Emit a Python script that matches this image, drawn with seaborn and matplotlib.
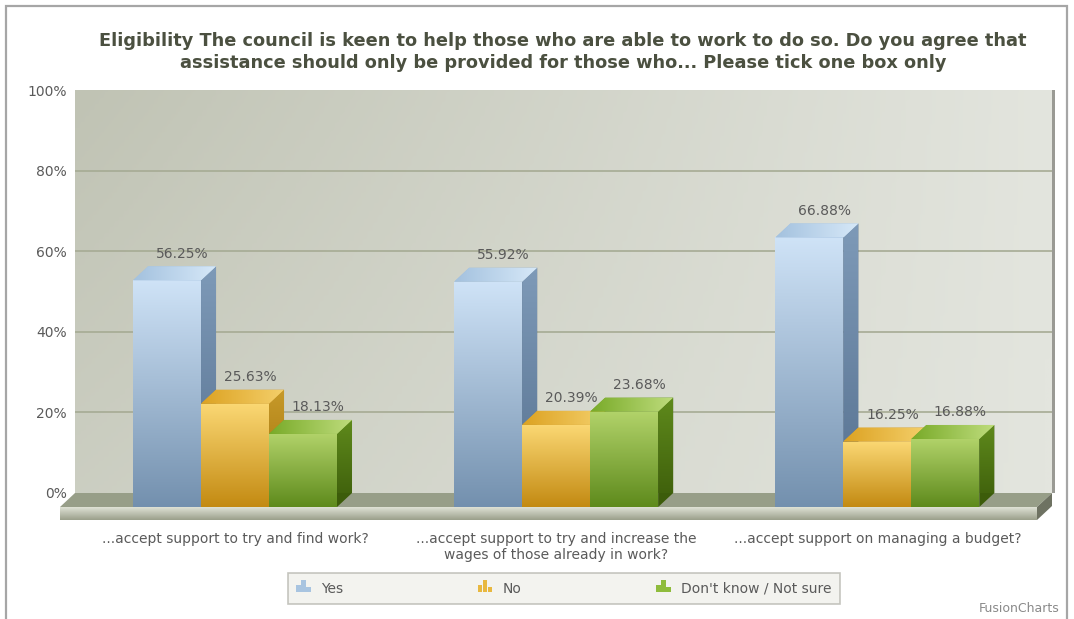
import numpy as np
import pandas as pd
import matplotlib
matplotlib.use("Agg")
import matplotlib.pyplot as plt
import seaborn as sns
from matplotlib.patches import Polygon, Rectangle
from matplotlib.legend_handler import HandlerBase
from matplotlib.colors import LinearSegmentedColormap, to_rgb

# ---- data -------------------------------------------------------------
questions = [
    "...accept support to try and find work?",
    "...accept support to try and increase the\nwages of those already in work?",
    "...accept support on managing a budget?",
]
responses = ["Yes", "No", "Don't know / Not sure"]
yes_pct = [56.25, 55.92, 66.88]
no_pct = [25.63, 20.39, 16.25]
dontknow_pct = [18.13, 23.68, 16.88]
y_ticks = [0, 20, 40, 60, 80, 100]
y_ticklabels = ["0%", "20%", "40%", "60%", "80%", "100%"]

title = ("Eligibility The council is keen to help those who are able to work to do so. "
         "Do you agree that\nassistance should only be provided for those who... "
         "Please tick one box only")

df = pd.DataFrame({
    "question": np.repeat(questions, 3),
    "response": responses * 3,
    "pct": [v for trio in zip(yes_pct, no_pct, dontknow_pct) for v in trio],
})

# ---- styling ----------------------------------------------------------
sns.set_theme(style="white")
plt.rcParams["font.family"] = ["DejaVu Sans"]

# colours per response: front (top, bottom), side (top, bottom), top face (left, right)
shades = {
    "Yes": dict(front=("#cfe3f7", "#7390ae"), side=("#7e9ab8", "#55708f"),
                top=("#a3c1de", "#d6e8f8"), base="#a8c4e0"),
    "No": dict(front=("#fbd874", "#c38a12"), side=("#c79a2a", "#9c6c06"),
               top=("#dca222", "#f4cf6a"), base="#e8b840"),
    "Don't know / Not sure": dict(front=("#b2d36a", "#5e8a1c"), side=("#5f8a1c", "#3c5c0a"),
                                  top=("#78aa28", "#bedc7c"), base="#8fbc3c"),
}
palette = {k: v["base"] for k, v in shades.items()}

text_grey = "#5a5a5a"
depth_px = (15, 14)      # horizontal / vertical depth of the 3-D extrusion
slab_px = 13             # thickness of the floor slab

W, H = 1074, 619
fig = plt.figure(figsize=(W / 100, H / 100), dpi=100)
fig.patch.set_facecolor("white")

# outer frame
fig.add_artist(Rectangle((6 / W, -0.05), (1067 - 6) / W, 1.05 - 6 / H,
                         transform=fig.transFigure, fill=False,
                         edgecolor="#a6a6a6", linewidth=1.6))

ax = fig.add_axes([75 / W, (H - 493) / H, 977 / W, 403 / H])
xlim = (-0.545, 2.497)
ylim = (0, 100)

sns.barplot(data=df, x="question", y="pct", hue="response", order=questions,
            hue_order=responses, palette=palette, width=0.635, gap=0,
            saturation=1, legend=False, ax=ax, edgecolor="none", linewidth=0,
            err_kws={"linewidth": 0})

ax.set_xlim(*xlim)
ax.set_ylim(*ylim)
ax.set_autoscale_on(False)

# pixel -> data conversions
p0 = ax.transData.transform((0, 0))
p1 = ax.transData.transform((1, 1))
px_x = p1[0] - p0[0]
px_y = p1[1] - p0[1]
dx = depth_px[0] / px_x
dy = depth_px[1] / px_y
slab = slab_px / px_y


def grad_fill(shape, c0, c1, direction, z):
    """Fill a patch with a linear gradient clipped to its outline.

    direction "v": c0 at the top, c1 at the bottom; "h": c0 left, c1 right.
    """
    cmap = LinearSegmentedColormap.from_list("g", [to_rgb(c0), to_rgb(c1)])
    if isinstance(shape, Rectangle):
        x0, y0 = shape.get_x(), shape.get_y()
        x1, y1 = x0 + shape.get_width(), y0 + shape.get_height()
    else:
        xy = shape.get_xy()
        x0, x1 = xy[:, 0].min(), xy[:, 0].max()
        y0, y1 = xy[:, 1].min(), xy[:, 1].max()
    g = np.linspace(0, 1, 256)
    img = (1 - g)[:, None] if direction == "v" else g[None, :]
    im = ax.imshow(img, cmap=cmap, vmin=0, vmax=1, extent=(x0, x1, y0, y1),
                   origin="lower", aspect="auto", interpolation="bilinear", zorder=z)
    im.set_clip_box(None)
    im.set_clip_path(shape)
    return im


# ---- back wall: darker towards the top left ---------------------------
gx = np.linspace(0, 1, 200)[None, :]
gy = np.linspace(0, 1, 200)[:, None]
wall = gx * 0.75 + gy * 0.25 * (1 - gx)
wall_cmap = LinearSegmentedColormap.from_list("wall", ["#c0c3b4", "#e3e5de"])
ax.imshow(wall, cmap=wall_cmap, extent=(xlim[0], xlim[1], ylim[0], ylim[1]),
          origin="upper", aspect="auto", zorder=0)
for t in y_ticks[1:-1]:
    ax.axhline(t, color="#a6ab94", linewidth=1.2, zorder=0.5)
ax.add_patch(Rectangle((xlim[1], ylim[0]), 3 / px_x, ylim[1] - ylim[0],
                       facecolor="#9a9a94", edgecolor="none", clip_on=False, zorder=0.4))

# ---- floor ------------------------------------------------------------
floor_top = Polygon([(xlim[0], 0), (xlim[1], 0), (xlim[1] - dx, -dy), (xlim[0] - dx, -dy)],
                    closed=True, facecolor="#979e88", edgecolor="none", clip_on=False, zorder=1)
ax.add_patch(floor_top)
slab_front = Rectangle((xlim[0] - dx, -dy - slab), xlim[1] - xlim[0], slab,
                       facecolor="#d0d4c6", edgecolor="none", clip_on=False, zorder=1)
ax.add_patch(slab_front)
grad_fill(slab_front, "#dfe2d6", "#9a9f8a", "v", 1.05)
slab_side = Polygon([(xlim[1] - dx, -dy), (xlim[1], 0), (xlim[1], -slab), (xlim[1] - dx, -dy - slab)],
                    closed=True, facecolor="#6e7262", edgecolor="none", clip_on=False, zorder=1.1)
ax.add_patch(slab_side)

# ---- value labels, placed above the back edge of each bar --------------
for cont, resp in zip(ax.containers, responses):
    ax.bar_label(cont, labels=[f"{b.get_height():.2f}%" for b in cont],
                 padding=4, fontsize=10, color=text_grey, zorder=20)

# ---- extrude bars into 3-D prisms -------------------------------------
bars = []
for cont, resp in zip(ax.containers, responses):
    for b in cont:
        bars.append((b.get_x(), b, resp))
bars.sort(key=lambda t: t[0])

for i, (_, b, resp) in enumerate(bars):
    s = shades[resp]
    z = 2 + i * 0.1
    x0, w, h = b.get_x(), b.get_width(), b.get_height()
    x1 = x0 + w
    # front face shifted towards the viewer
    b.set_x(x0 - dx)
    b.set_y(-dy)
    b.set_zorder(z)
    b.set_clip_on(False)
    grad_fill(b, s["front"][0], s["front"][1], "v", z + 0.01)
    side = Polygon([(x1 - dx, -dy), (x1, 0), (x1, h), (x1 - dx, h - dy)], closed=True,
                   facecolor=s["side"][1], edgecolor="none", clip_on=False, zorder=z + 0.02)
    ax.add_patch(side)
    grad_fill(side, s["side"][0], s["side"][1], "v", z + 0.03)
    top = Polygon([(x0 - dx, h - dy), (x1 - dx, h - dy), (x1, h), (x0, h)], closed=True,
                  facecolor=s["top"][0], edgecolor="none", clip_on=False, zorder=z + 0.04)
    ax.add_patch(top)
    grad_fill(top, s["top"][0], s["top"][1], "h", z + 0.05)

# ---- axes text --------------------------------------------------------
ax.set_yticks(y_ticks)
ax.set_yticklabels(y_ticklabels)
ax.set_xticks(np.arange(len(questions)) - dx)
ax.set_xticklabels(questions)
ax.tick_params(axis="x", length=0, pad=28, labelsize=10, labelcolor=text_grey)
ax.tick_params(axis="y", length=0, pad=6, labelsize=10, labelcolor=text_grey)
for lab in ax.get_xticklabels():
    lab.set_linespacing(1.2)
ax.set_xlabel("")
ax.set_ylabel("")
for sp in ax.spines.values():
    sp.set_visible(False)

fig.text(563 / W, 1 - 52 / H, title, ha="center", va="center", fontsize=12.8,
         fontweight="bold", color="#4b5040", linespacing=1.3)
fig.text(1060 / W, 1 - 608 / H, "FusionCharts", ha="right", va="center",
         fontsize=9, color="#8a8a8a")


# ---- legend with small bar-chart icons ---------------------------------
class BarIcon(HandlerBase):
    def create_artists(self, legend, orig, xd, yd, width, height, fontsize, trans):
        col = orig.get_facecolor()
        arts = []
        bw = width / 3.4
        for k, frac in enumerate([0.6, 1.0, 0.45]):
            r = Rectangle((xd + k * bw * 1.1, yd), bw, height * frac,
                          facecolor=col, edgecolor="none", transform=trans)
            arts.append(r)
        return arts


handles = [Rectangle((0, 0), 1, 1, facecolor=shades[r]["base"]) for r in responses]
leg = fig.legend(handles, responses, handler_map={Rectangle: BarIcon()},
                 loc="lower left", ncol=3, mode="expand",
                 bbox_to_anchor=(288 / W, 1 - 604 / H, 552 / W, 32 / H),
                 frameon=True, fancybox=False, fontsize=10, labelcolor=text_grey,
                 handlelength=1.1, handleheight=0.9, handletextpad=0.7,
                 borderpad=0.6, borderaxespad=0)
leg.get_frame().set_facecolor("#f0f0ec")
leg.get_frame().set_edgecolor("#b8b8b0")
leg.get_frame().set_linewidth(1.2)

fig.savefig("out.png", dpi=100)
